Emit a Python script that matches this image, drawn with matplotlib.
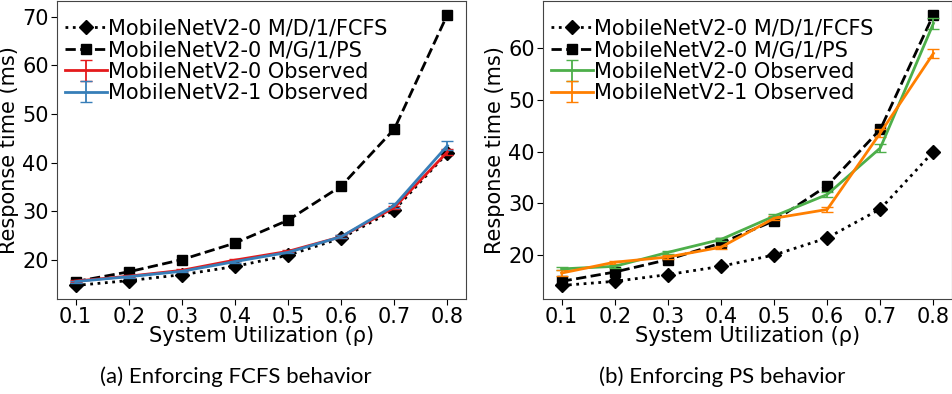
import matplotlib
matplotlib.use('Agg')
import matplotlib.pyplot as plt

# Donnees
util = [0.1, 0.2, 0.3, 0.4, 0.5, 0.6, 0.7, 0.8]

# (a) FCFS
a_md1 = [14.8, 15.8, 17.0, 18.7, 21.0, 24.5, 30.3, 42.0]
a_mg1ps = [15.6, 17.6, 20.1, 23.5, 28.2, 35.2, 46.9, 70.4]
a_obs0 = [15.7, 16.7, 17.9, 20.0, 21.8, 24.8, 30.8, 42.2]
a_obs0_err = [0.2, 0.2, 0.2, 0.2, 0.2, 0.3, 0.4, 0.6]
a_obs1 = [15.6, 16.6, 17.7, 19.7, 21.6, 24.8, 31.2, 43.5]
a_obs1_err = [0.2, 0.2, 0.2, 0.2, 0.2, 0.3, 0.5, 0.9]

# (b) PS
b_md1 = [14.1, 14.9, 16.2, 17.8, 20.0, 23.3, 28.9, 40.0]
b_mg1ps = [14.9, 16.7, 19.1, 22.3, 26.6, 33.4, 44.3, 66.5]
b_obs0 = [17.3, 17.8, 20.5, 23.0, 27.5, 31.7, 40.7, 64.8]
b_obs0_err = [0.3, 0.3, 0.3, 0.3, 0.4, 0.5, 0.8, 1.0]
b_obs1 = [16.5, 18.6, 19.6, 21.5, 27.1, 28.8, 43.6, 59.0]
b_obs1_err = [0.6, 0.3, 0.3, 0.3, 0.4, 0.5, 0.7, 0.9]

labels = ['MobileNetV2-0 M/D/1/FCFS', 'MobileNetV2-0 M/G/1/PS',
          'MobileNetV2-0 Observed', 'MobileNetV2-1 Observed']
captions = ['(a) Enforcing FCFS behavior', '(b) Enforcing PS behavior']

plt.rcParams['font.family'] = 'DejaVu Sans'
plt.rcParams['font.size'] = 15

fig = plt.figure(figsize=(9.53, 3.94), dpi=100)
ax_a = fig.add_axes([0.0598, 0.2411, 0.4292, 0.7563])
ax_b = fig.add_axes([0.5698, 0.2411, 0.4292, 0.7563])

panels = [
    (ax_a, a_md1, a_mg1ps, a_obs0, a_obs0_err, a_obs1, a_obs1_err, '#e41a1c', '#377eb8'),
    (ax_b, b_md1, b_mg1ps, b_obs0, b_obs0_err, b_obs1, b_obs1_err, '#4daf4a', '#ff7f00'),
]

for ax, md1, mg1, o0, e0, o1, e1, c0, c1 in panels:
    ax.plot(util, md1, ':', color='black', marker='D', markersize=7, linewidth=2, label=labels[0])
    ax.plot(util, mg1, '--', color='black', marker='s', markersize=7, linewidth=2, label=labels[1])
    ax.errorbar(util, o0, yerr=e0, color=c0, linewidth=2, capsize=4, elinewidth=1.3, label=labels[2])
    ax.errorbar(util, o1, yerr=e1, color=c1, linewidth=2, capsize=4, elinewidth=1.3, label=labels[3])
    ax.set_xticks(util)
    ax.set_xlabel('System Utilization (ρ)', fontsize=15, labelpad=-1)
    ax.set_ylabel('Response time (ms)', fontsize=15, labelpad=2)
    ax.tick_params(labelsize=15, length=4, pad=2)
    for s in ax.spines.values():
        s.set_color('#444444')
    ax.legend(loc='upper left', bbox_to_anchor=(-0.019, 0.993), frameon=False, fontsize=15,
              handlelength=2.0, handletextpad=0.05, labelspacing=0.07,
              borderaxespad=0.45, borderpad=0.3)

# captions centred on each half of the figure
for xc, cap in zip([0.247, 0.758], captions):
    fig.text(xc, 0.043, cap, ha='center', va='center',
             fontsize=16, family=['Liberation Sans Narrow', 'Lato', 'DejaVu Sans'])

plt.savefig('out.png', dpi=100)
